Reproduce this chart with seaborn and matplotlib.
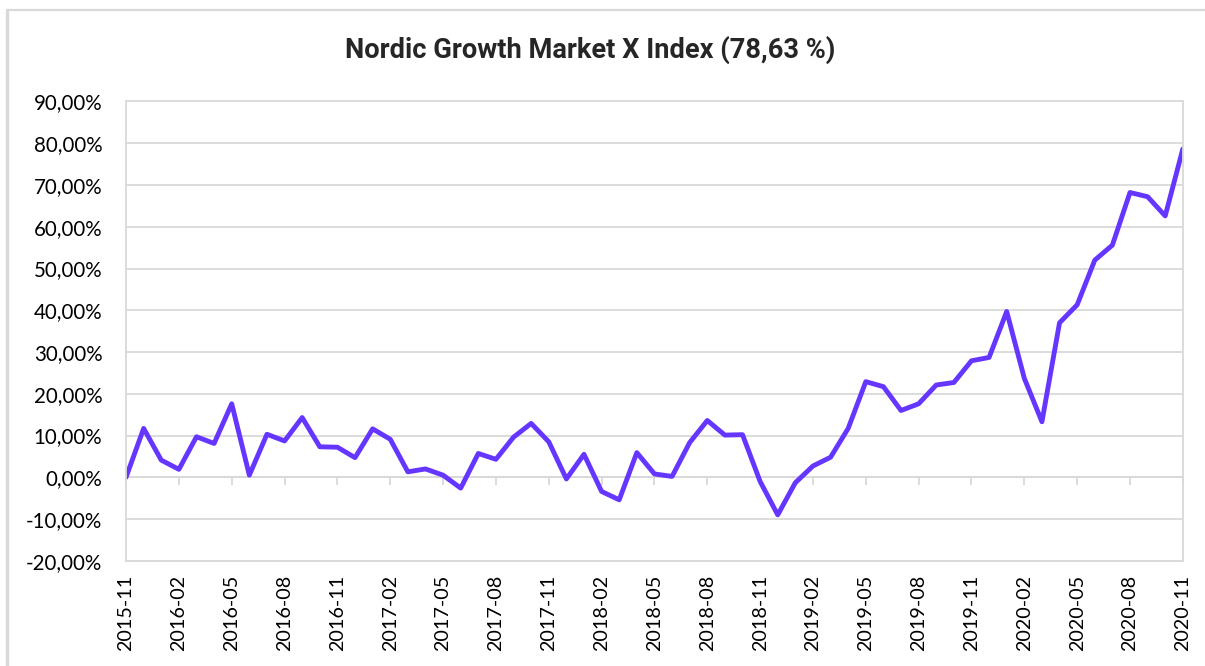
import pandas as pd
import matplotlib.pyplot as plt
import seaborn as sns
from matplotlib.lines import Line2D
from matplotlib.ticker import FuncFormatter

# Monthly index return (%) from 2015-11 to 2020-11
months = pd.date_range("2015-11-01", "2020-11-01", freq="MS").strftime("%Y-%m").tolist()
returns = [0.0, 11.7, 4.1, 1.9, 9.7, 8.1, 17.6, 0.5, 10.3, 8.7,
           14.3, 7.3, 7.2, 4.7, 11.6, 9.1, 1.3, 2.0, 0.5, -2.6,
           5.7, 4.3, 9.6, 12.9, 8.5, -0.4, 5.5, -3.4, -5.4, 5.9,
           0.8, 0.2, 8.3, 13.6, 10.1, 10.2, -1.0, -9.0, -1.3, 2.7,
           4.8, 11.7, 22.9, 21.7, 16.0, 17.6, 22.1, 22.7, 27.9, 28.7,
           39.7, 23.7, 13.3, 37.0, 41.3, 52.0, 55.6, 68.2, 67.2, 62.6,
           78.63]
yticks = list(range(-20, 91, 10))

df = pd.DataFrame({"idx": range(len(months)), "month": months, "ret": returns})

sns.set_style("white")
plt.rcParams['font.family'] = ['Lato', 'DejaVu Sans']

fig = plt.figure(figsize=(12.05, 6.66), dpi=100)
ax = fig.add_axes([0.1046, 0.158, 0.877, 0.6896])

sns.lineplot(data=df, x="idx", y="ret", color="#6536FF", linewidth=3.5, ax=ax)

ax.set_xlim(0, len(months) - 1)
ax.set_ylim(-20, 90)
ax.set_yticks(yticks)
ax.yaxis.set_major_formatter(FuncFormatter(lambda v, p: f"{v:.2f}%".replace(".", ",")))
ax.grid(axis="y", color="#d9d9d9", linewidth=1.3)
ax.set_axisbelow(True)

tick_pos = df["idx"][::3]
ax.set_xticks(tick_pos)
ax.set_xticklabels(df["month"][::3], rotation=90)
ax.tick_params(axis="x", length=0, pad=10, labelsize=14.2, colors="#000000")
ax.tick_params(axis="y", length=0, pad=17, labelsize=14.8, colors="#000000")
ax.set_xlabel("")
ax.set_ylabel("")

for s in ["left", "bottom", "right", "top"]:
    ax.spines[s].set_color("#d9d9d9")
    ax.spines[s].set_linewidth(1.3)

# small tick marks on the 0 line, like Excel's category axis
sec = ax.secondary_xaxis(20 / 110)
sec.set_xticks(tick_pos)
sec.set_xticklabels([])
sec.tick_params(axis="x", length=5.5, width=1.3, color="#d9d9d9", direction="out")
sec.spines["bottom"].set_color("#d9d9d9")
sec.spines["bottom"].set_linewidth(1.3)

# title is centred on the whole chart area, not on the plot
fig.text(0.4896, 0.925, "Nordic Growth Market X Index (78,63 %)", fontsize=19.6,
         fontweight="bold", family=["Roboto", "DejaVu Sans"], ha="center", va="center")

# chart area border (top and left edges visible)
fig.add_artist(Line2D([0.0054, 1.0], [0.9850, 0.9850], transform=fig.transFigure,
                      color="#d9d9d9", linewidth=1.6))
fig.add_artist(Line2D([0.0054, 0.0054], [0.0, 0.9850], transform=fig.transFigure,
                      color="#d9d9d9", linewidth=2.4))

plt.savefig("out.png", dpi=100)
